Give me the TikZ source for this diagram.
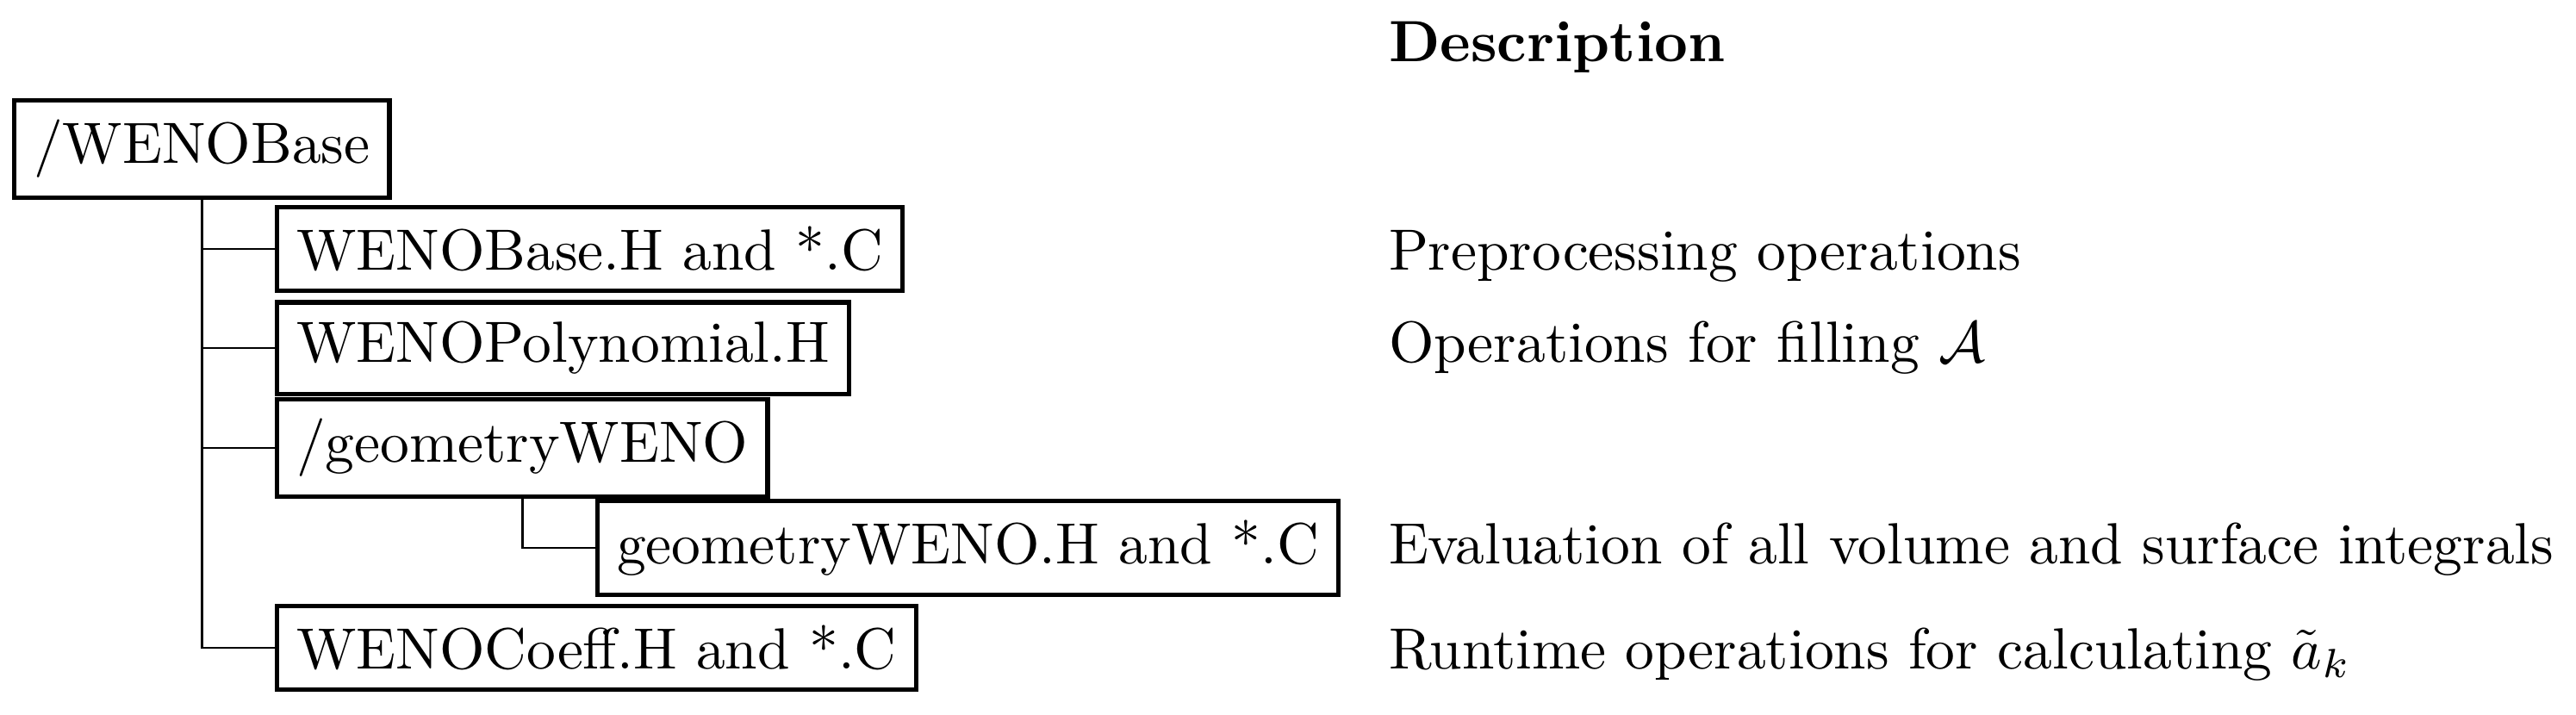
\documentclass[tikz,border=0pt]{standalone}
\usepackage{amsmath}
\usepackage{amssymb}
\usepackage{tikz}

\begin{document}
\begin{tikzpicture}[file/.style={draw,thick,anchor=west}]
	\useasboundingbox (0,0) rectangle (15.57,-4.322);
	\node at (0.073,-0.901) [file] (wenobase) {/WENOBase};
	\node at (1.661,-1.505) [file] (baseh) {WENOBase.H and *.C};
	\node at (1.661,-2.104) [file] (poly) {WENOPolynomial.H};
	\node at (1.661,-2.708) [file] (geom) {/geometryWENO};
	\node at (3.598,-3.312) [file] (geomh) {geometryWENO.H and *.C};
	\node at (1.661,-3.916) [file] (coeff) {WENOCoeff.H and *.C};
	\draw[thin] (wenobase.south) |- (baseh.west) (wenobase.south) |- (poly.west) (wenobase.south) |- (geom.west) (wenobase.south) |- (coeff.west) (geom.south) |- (geomh.west);
	\node at (8.27,-0.370) [anchor=base west] (desc) {\textbf{Description}};
	\node at (desc.base west |- baseh.base) [anchor=base west] (dbase) {Preprocessing operations};
	\node at (desc.base west |- poly.base) [anchor=base west] (dpoly) {Operations for filling $\mathcal{A}$};
	\node at (desc.base west |- geomh.base) [anchor=base west] (dgeom) {Evaluation of all volume and surface integrals};
	\node at (desc.base west |- coeff.base) [anchor=base west] (dcoeff) {Runtime operations for calculating $\tilde{a}_k$};
\end{tikzpicture}
\end{document}
